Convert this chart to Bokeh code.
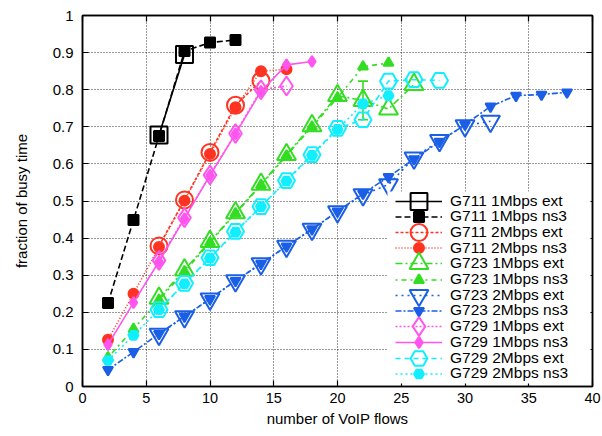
from bokeh.plotting import figure
from bokeh.models import (Legend, LegendItem, LinearAxis, FixedTicker,
                          PrintfTickFormatter, Range1d, BoxAnnotation, Whisker,
                          ColumnDataSource)
from bokeh.embed import file_html
from bokeh.resources import INLINE

# ---------------- data ----------------
x_g711_1m_ext = [6, 8]
y_g711_1m_ext = [0.678, 0.895]
x_g711_1m_ns3 = [2, 4, 6, 8, 10, 12]
y_g711_1m_ns3 = [0.225, 0.449, 0.675, 0.904, 0.927, 0.934]

x_g711_2m_ext = [6, 8, 10, 12, 14]
y_g711_2m_ext = [0.379, 0.503, 0.631, 0.758, 0.824]
x_g711_2m_ns3 = [2, 4, 6, 8, 10, 12, 14, 16]
y_g711_2m_ns3 = [0.126, 0.250, 0.376, 0.501, 0.627, 0.753, 0.850, 0.855]

x_g723_1m_ext = [6, 8, 10, 12, 14, 16, 18, 20, 22, 24, 26]
y_g723_1m_ext = [0.238, 0.314, 0.391, 0.468, 0.545, 0.625, 0.703, 0.784, 0.771, 0.748, 0.814]
x_g723_1m_ext_err = [22]
lo_g723_1m_ext_err = [0.719]
hi_g723_1m_ext_err = [0.823]
x_g723_1m_ns3 = [2, 4, 6, 8, 10, 12, 14, 16, 18, 20, 22, 24]
y_g723_1m_ns3 = [0.078, 0.155, 0.233, 0.310, 0.388, 0.466, 0.543, 0.622, 0.700, 0.778, 0.862, 0.872]

x_g723_2m_ext = [6, 8, 10, 12, 14, 16, 18, 20, 22, 24, 26, 28, 30, 32]
y_g723_2m_ext = [0.141, 0.188, 0.236, 0.285, 0.331, 0.378, 0.424, 0.471, 0.517, 0.544, 0.616, 0.663, 0.703, 0.715]
x_g723_2m_ns3 = [2, 4, 6, 8, 10, 12, 14, 16, 18, 20, 22, 24, 26, 28, 30, 32, 34, 36, 38]
y_g723_2m_ns3 = [0.045, 0.093, 0.142, 0.189, 0.236, 0.285, 0.331, 0.378, 0.424, 0.472,
                 0.520, 0.565, 0.613, 0.660, 0.706, 0.755, 0.784, 0.787, 0.793]

x_g729_1m_ext = [6, 8, 10, 12, 14, 16]
y_g729_1m_ext = [0.340, 0.455, 0.570, 0.682, 0.800, 0.810]
x_g729_1m_ns3 = [2, 4, 6, 8, 10, 12, 14, 16, 18]
y_g729_1m_ns3 = [0.113, 0.226, 0.337, 0.453, 0.569, 0.681, 0.796, 0.867, 0.876]

x_g729_2m_ext = [6, 8, 10, 12, 14, 16, 18, 20, 22, 24, 26, 28]
y_g729_2m_ext = [0.207, 0.278, 0.347, 0.418, 0.485, 0.555, 0.625, 0.696, 0.719, 0.823, 0.827, 0.825]
x_g729_2m_ns3 = [2, 4, 6, 8, 10, 12, 14, 16, 18, 20, 22, 24]
y_g729_2m_ns3 = [0.070, 0.138, 0.207, 0.277, 0.346, 0.416, 0.485, 0.554, 0.623, 0.693, 0.762, 0.784]

labels = ["G711 1Mbps ext", "G711 1Mbps ns3", "G711 2Mbps ext", "G711 2Mbps ns3",
          "G723 1Mbps ext", "G723 1Mbps ns3", "G723 2Mbps ext", "G723 2Mbps ns3",
          "G729 1Mbps ext", "G729 1Mbps ns3", "G729 2Mbps ext", "G729 2Mbps ns3"]

x_ticks = [0, 5, 10, 15, 20, 25, 30, 35, 40]
y_ticks = [0, 0.1, 0.2, 0.3, 0.4, 0.5, 0.6, 0.7, 0.8, 0.9, 1.0]

# ---------------- styles ----------------
BLACK = "#000000"
RED = "#ff3322"
GREEN = "#33dd22"
BLUE = "#1a5fe6"
MAGENTA = "#ff55ee"
CYAN = "#11eeff"

series = [
    (x_g711_1m_ext, y_g711_1m_ext, BLACK, "solid", "square", 17, False),
    (x_g711_1m_ns3, y_g711_1m_ns3, BLACK, "6 3", "square", 10, True),
    (x_g711_2m_ext, y_g711_2m_ext, RED, "3 2", "circle", 17, False),
    (x_g711_2m_ns3, y_g711_2m_ns3, RED, "1 2", "circle", 10, True),
    (x_g723_1m_ext, y_g723_1m_ext, GREEN, "7 3 2 3", "triangle", 19, False),
    (x_g723_1m_ns3, y_g723_1m_ns3, GREEN, "2 4 5 4", "triangle", 10, True),
    (x_g723_2m_ext, y_g723_2m_ext, BLUE, "2 4", "inverted_triangle", 19, False),
    (x_g723_2m_ns3, y_g723_2m_ns3, BLUE, "6 2 2 2", "inverted_triangle", 10, True),
    (x_g729_1m_ext, y_g729_1m_ext, MAGENTA, "2 2", "diamond", 19, False),
    (x_g729_1m_ns3, y_g729_1m_ns3, MAGENTA, "solid", "diamond", 11, True),
    (x_g729_2m_ext, y_g729_2m_ext, CYAN, "5 4", "hex", 17, False),
    (x_g729_2m_ns3, y_g729_2m_ns3, CYAN, "2 3", "hex", 10, True),
]

FONT = "Liberation Sans"
FRAME_L, FRAME_B = 82, 386

p = figure(width=602, height=436, x_range=Range1d(0, 40), y_range=Range1d(0, 1),
           output_backend="svg", toolbar_location=None,
           min_border_left=FRAME_L, min_border_right=10, min_border_top=15,
           min_border_bottom=436 - FRAME_B)
p.background_fill_color = "white"
p.border_fill_color = "white"
p.outline_line_color = "black"
p.outline_line_width = 1.5

for ax in (p.xaxis[0], p.yaxis[0]):
    ax.major_tick_in = 6
    ax.major_tick_out = 0
    ax.minor_tick_line_color = None
    ax.axis_line_width = 1.5
    ax.major_tick_line_width = 1.2
    ax.major_label_text_font = FONT
    ax.major_label_text_color = "black"
    ax.axis_label_text_font = FONT
    ax.axis_label_text_font_size = "15px"
    ax.axis_label_text_font_style = "normal"
    ax.axis_label_text_color = "black"

p.xaxis[0].major_label_text_font_size = "14.5px"
p.yaxis[0].major_label_text_font_size = "15px"
p.xaxis[0].ticker = FixedTicker(ticks=x_ticks)
p.yaxis[0].ticker = FixedTicker(ticks=y_ticks)
p.xaxis[0].formatter = PrintfTickFormatter(format="%g")
p.yaxis[0].formatter = PrintfTickFormatter(format="%g")
p.xaxis[0].axis_label = "number of VoIP flows"
p.yaxis[0].axis_label = "fraction of busy time"
p.xaxis[0].major_label_standoff = 6
p.yaxis[0].major_label_standoff = 9
p.xaxis[0].axis_label_standoff = 4
p.yaxis[0].axis_label_standoff = 20

# mirrored ticks on top and right
for loc, ticks in (("right", y_ticks), ("above", x_ticks)):
    ax = LinearAxis(ticker=FixedTicker(ticks=ticks), major_tick_in=6, major_tick_out=0,
                    minor_tick_line_color=None, major_label_text_color=None,
                    major_label_standoff=0, axis_line_width=1.5, major_tick_line_width=1.2)
    p.add_layout(ax, loc)

p.xgrid.ticker = FixedTicker(ticks=x_ticks)
p.ygrid.ticker = FixedTicker(ticks=y_ticks)
for g in (p.xgrid, p.ygrid):
    g.grid_line_color = "black"
    g.grid_line_alpha = 0.8
    g.grid_line_dash = "1 2"
    g.grid_line_width = 1

# error bar
err_src = ColumnDataSource(dict(x=x_g723_1m_ext_err, lo=lo_g723_1m_ext_err, hi=hi_g723_1m_ext_err))
wh = Whisker(source=err_src, base="x", lower="lo", upper="hi", dimension="height",
             line_color=GREEN, line_width=1.6)
wh.upper_head.size = 10
wh.lower_head.size = 10
wh.upper_head.line_color = GREEN
wh.lower_head.line_color = GREEN
wh.upper_head.line_width = 1.6
wh.lower_head.line_width = 1.6
p.add_layout(wh)

# ---------------- legend (one box per row so markers keep their size) ----------------
LEG_LEFT = 395          # px, left of line sample
ROW0, ROW_STEP = 200.5, 15.7
GLYPH_W = 47

bg = BoxAnnotation(left=LEG_LEFT - 8 - FRAME_L, right=590 - FRAME_L,
                   bottom=FRAME_B - 383, top=FRAME_B - 191,
                   left_units="screen", right_units="screen",
                   bottom_units="screen", top_units="screen",
                   fill_color="white", fill_alpha=1.0, line_alpha=0, level="annotation")
p.add_layout(bg)

for i, ((xs, ys, col, dash, mk, sz, filled), lab) in enumerate(zip(series, labels)):
    ln = p.line(xs, ys, line_color=col, line_dash=dash, line_width=1.6)
    sc = p.scatter(xs, ys, marker=mk, size=sz, line_color=col, line_width=2,
                   fill_color=col, fill_alpha=1.0 if filled else 0.0)
    h = int(round(sz / 0.4))
    cy = ROW0 + ROW_STEP * i
    leg = Legend(items=[LegendItem(label=lab, renderers=[ln, sc])],
                 location=(LEG_LEFT - FRAME_L, FRAME_B - (cy + h / 2.0)))
    leg.label_text_font = FONT
    leg.label_text_font_size = "15.5px"
    leg.label_text_color = "black"
    leg.glyph_width = GLYPH_W
    leg.glyph_height = h
    leg.label_height = h
    leg.spacing = 0
    leg.padding = 0
    leg.margin = 0
    leg.label_standoff = 8
    leg.border_line_alpha = 0
    leg.background_fill_alpha = 0
    p.add_layout(leg)

open("out.html", "w").write(file_html(p, INLINE))
